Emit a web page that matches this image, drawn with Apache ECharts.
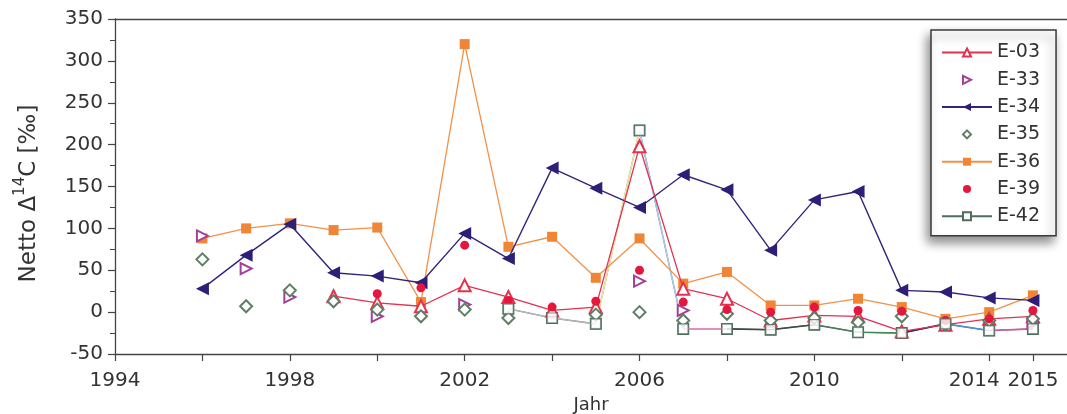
<!DOCTYPE html>
<html>
<head>
<meta charset="utf-8">
<script src="https://cdn.jsdelivr.net/npm/echarts@6/dist/echarts.min.js"></script>
<style>
html,body{margin:0;padding:0;background:#fff;}
#c{width:1067px;height:414px;}
</style>
</head>
<body>
<div id="c"></div>
<script>
// ---- data ----
const years = [1996,1997,1998,1999,2000,2001,2002,2003,2004,2005,2006,2007,2008,2009,2010,2011,2012,2013,2014,2015];
const E03 = [null,null,null,19,11,7,32,18,2,6,198,28,16,-10,-4,-5,-23,-15,-8,-5];
const E33 = [91,52,18,null,-5,null,9,null,null,null,37,2,null,null,null,null,null,null,null,-13];
const E34 = [28,68,105,47,43,35,94,64,172,148,125,164,146,74,134,144,26,24,17,14];
const E35 = [63,7,26,13,3,-5,3,-7,null,-3,0,-10,-2,-10,-7,-12,-5,-15,-10,-8];
const E36 = [88,100,106,98,101,12,320,78,90,41,88,34,48,8,8,16,6,-8,0,20];
const E39 = [null,null,null,null,22,29,80,14,6,13,50,12,3,0,6,2,1,-10,-8,2];
const E42 = [null,null,null,null,null,null,null,4,-7,-14,217,-20,-20,-21,-15,-24,-25,-14,-22,-20];
const xTicks = [1994,1996,1998,2000,2002,2004,2006,2008,2010,2012,2014,2015];
const xLabels = [1994,1998,2002,2006,2010,2014,2015];
// colours of the E-42 connecting segments as printed (starting at 2003)
const e42SegColors = ['#b4b4b4','#b4b4b4','#f1e2a2','#a9c8ec','#e58cbd','#3e4a48','#3e4a48','#4c7a5c','#3f8a55','#3b2766','#4f8fd6','#d65ba0'];

function pairs(vals){ return years.map((y,i)=>[y, vals[i]]); }

const FONT = 'DejaVu Sans';
const GREEN = '#4e6e5e';

const series = [];
// E-42 base (legend icon + dark line underneath)
series.push({name:'E-42', type:'line', data:pairs(E42), symbol:'emptyRect', symbolSize:10, showSymbol:true,
  z:1, lineStyle:{color:GREEN, width:1.2}, itemStyle:{color:GREEN, borderWidth:1.2}});
// E-42 coloured segments
const k0 = years.indexOf(2003);
years.forEach((y,i)=>{
  if(i+1 < years.length && E42[i]!==null && E42[i+1]!==null){
    series.push({name:'E-42', type:'line', data:[[years[i],E42[i]],[years[i+1],E42[i+1]]],
      showSymbol:false, symbol:'none', silent:true, z:1.5,
      lineStyle:{color:e42SegColors[i-k0], width:1.6}});
  }
});
series.push(
  {name:'E-36', type:'line', data:pairs(E36), symbol:'rect', symbolSize:10, z:3,
    lineStyle:{color:'#f29148', width:1.3}, itemStyle:{color:'#f08535'}},
  {name:'E-34', type:'line', data:pairs(E34), symbol:'triangle', symbolRotate:90, symbolSize:13, z:4,
    lineStyle:{color:'#33237a', width:1.4}, itemStyle:{color:'#2e1e78'}},
  {name:'E-03', type:'line', data:pairs(E03), symbol:'emptyTriangle', symbolSize:12, z:5,
    lineStyle:{color:'#e3324f', width:1.3}, itemStyle:{color:'#e3324f', borderWidth:1.2}},
  {name:'E-33', type:'line', data:pairs(E33), symbol:'emptyTriangle', symbolRotate:-90, symbolSize:11, z:5,
    lineStyle:{width:0, opacity:0}, itemStyle:{color:'#a3409a', borderWidth:1.2}},
  {name:'E-35', type:'line', data:pairs(E35), symbol:'emptyDiamond', symbolSize:12, z:5,
    lineStyle:{width:0, opacity:0}, itemStyle:{color:'#5f7f64', borderWidth:1.2}},
  {name:'E-39', type:'line', data:pairs(E39), symbol:'circle', symbolSize:9, z:6,
    lineStyle:{width:0, opacity:0}, itemStyle:{color:'#e5173e'}},
  // E-42 squares on top of the coloured segments
  {name:'E-42', type:'scatter', data:pairs(E42).filter(p=>p[1]!==null), symbol:'rect', symbolSize:10, z:6,
    itemStyle:{color:'#ffffff', borderColor:GREEN, borderWidth:1.2}}
);

const chart = echarts.init(document.getElementById('c'), null, {renderer:'canvas'});
chart.setOption({
  animation:false,
  backgroundColor:'#ffffff',
  textStyle:{fontFamily:FONT},
  grid:{left:115, top:19, right:0, bottom:60, containLabel:false, outerBoundsMode:'none'},
  legend:{
    orient:'vertical', left:931, top:30,
    padding:[13,16,10,10],
    backgroundColor:'#ffffff',
    borderColor:'#3a3a3a', borderWidth:1.5, borderRadius:0,
    shadowBlur:10, shadowColor:'rgba(0,0,0,0.45)', shadowOffsetX:-3, shadowOffsetY:6,
    itemWidth:50, itemHeight:10, itemGap:8.3,
    textStyle:{fontSize:19, color:'#333', fontFamily:FONT, lineHeight:19},
    data:['E-03','E-33','E-34','E-35','E-36','E-39','E-42']
  },
  xAxis:[{
    type:'value', min:1994, max:2015.78,
    name:'Jahr', nameLocation:'middle', nameGap:42,
    nameTextStyle:{fontSize:18, color:'#333', fontFamily:FONT},
    axisLine:{show:true, onZero:false, lineStyle:{color:'#444', width:1.3}},
    axisTick:{show:true, length:7, customValues:xTicks, lineStyle:{color:'#444', width:1.2}},
    axisLabel:{customValues:xLabels, fontSize:20, color:'#333', margin:17, fontFamily:FONT,
      showMinLabel:true, showMaxLabel:true, hideOverlap:false,
      formatter:v=> v===2014 ? '{l|2014}' : String(v),
      rich:{l:{fontSize:20, color:'#333', fontFamily:FONT, padding:[0,30,0,0]}}},
    splitLine:{show:false}
  },{
    type:'value', min:1994, max:2015.78, position:'top',
    axisLine:{show:true, onZero:false, lineStyle:{color:'#444', width:1.3}},
    axisTick:{show:false}, axisLabel:{show:false}, splitLine:{show:false}
  }],
  yAxis:{
    type:'value', min:-50, max:350, interval:50,
    name:'{t|Netto Δ}{s|14}{t|C [‰]}', nameLocation:'middle', nameGap:74,
    nameTextStyle:{fontFamily:FONT, color:'#333', padding:[0,14,0,0], rich:{
      t:{fontSize:23, fontFamily:FONT, color:'#333', lineHeight:28, verticalAlign:'bottom'},
      s:{fontSize:15, fontFamily:FONT, color:'#333', lineHeight:28, verticalAlign:'top', padding:[0,0,10,0]}
    }},
    axisLine:{show:true, onZero:false, lineStyle:{color:'#444', width:1.3}},
    axisTick:{show:true, length:7, lineStyle:{color:'#444', width:1.2}},
    minorTick:{show:true, splitNumber:2, length:5, lineStyle:{color:'#444', width:1}},
    axisLabel:{fontSize:20, color:'#333', margin:12, fontFamily:FONT},
    splitLine:{show:false}
  },
  series: series
});
</script>
</body>
</html>
